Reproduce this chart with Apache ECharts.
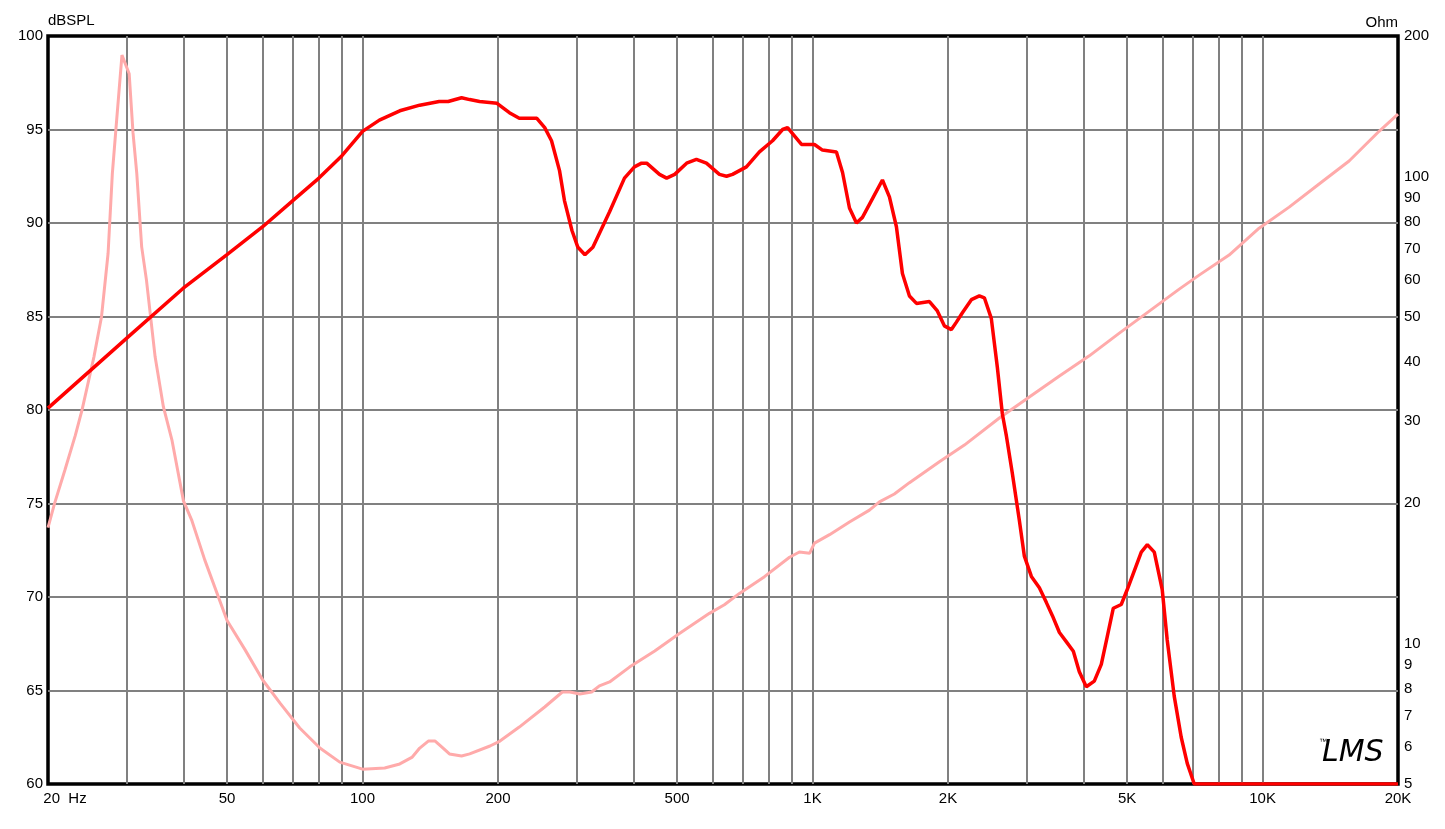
<!DOCTYPE html>
<html>
<head>
<meta charset="utf-8">
<script src="https://cdn.jsdelivr.net/npm/echarts@6.0.0/dist/echarts.min.js"></script>
<style>
html,body{margin:0;padding:0;background:#fff;}
#chart{width:1445px;height:829px;}
</style>
</head>
<body>
<div id="chart"></div>
<script>
// ---- Data ----
// SPL response (Hz, dBSPL)
const splFreq = [20,30.1,39.9,49.9,60,70,80,90,100,109,121,134,148,155,166,173,182,199,212,223,244,254,263,274,281,292,301,312,325,354,382,402,417,428,457,474,494,525,552,581,621,644,664,713,762,815,858,880,945,1010,1052,1130,1166,1208,1252,1291,1359,1430,1482,1536,1584,1642,1702,1819,1894,1963,2035,2088,2153,2254,2348,2409,2496,2574,2641,2697,2780,2881,2955,3064,3192,3309,3412,3537,3666,3798,3916,4058,4228,4382,4519,4660,4853,5005,5188,5377,5546,5747,5985,6140,6364,6596,6803,7051,20000];
const splDb = [80.1,83.9,86.5,88.3,89.8,91.2,92.4,93.6,94.9,95.5,96.0,96.3,96.5,96.5,96.7,96.6,96.5,96.4,95.9,95.6,95.6,95.1,94.4,92.8,91.2,89.6,88.7,88.3,88.7,90.6,92.4,93.0,93.2,93.2,92.6,92.4,92.6,93.2,93.4,93.2,92.6,92.5,92.6,93.0,93.8,94.4,95.0,95.1,94.2,94.2,93.9,93.8,92.7,90.8,90.0,90.3,91.3,92.3,91.4,89.8,87.3,86.1,85.7,85.8,85.3,84.5,84.3,84.7,85.2,85.9,86.1,86.0,84.9,82.3,79.8,78.6,76.6,74.1,72.2,71.1,70.5,69.7,69.0,68.1,67.6,67.1,66.0,65.2,65.5,66.4,67.9,69.4,69.6,70.4,71.4,72.4,72.8,72.4,70.4,67.7,64.7,62.5,61.1,60.0,60.0];

// Impedance (Hz, Ohm)
const zFreq = [20,20.7,21.8,23.0,23.8,25.3,26.3,27.2,27.8,28.3,29.2,30.3,30.9,31.5,32.3,33.1,34.6,36.1,37.7,40,41.7,44.6,50,54.8,60,65.5,72.5,80.4,89,100,112,121,129,134,140,145,151,156,166,173,192,202,223,254,278,289,304,323,336,354,392,446,506,590,637,688,782,889,935,985,1010,1091,1208,1338,1408,1520,1642,1914,2175,2601,3032,3537,4121,4806,5602,6529,7230,8428,9826,11458,13357,15572,18155,20000];
const zOhm = [17.7,20.0,23.5,27.9,31.6,41.1,50.1,68.5,101.6,125.7,182,166,124,101.6,70.7,60,41.1,32.1,27.3,20.2,18.4,15.1,11.2,9.7,8.35,7.46,6.59,5.97,5.57,5.38,5.41,5.52,5.71,5.97,6.18,6.18,5.97,5.80,5.74,5.80,6.03,6.18,6.62,7.31,7.87,7.87,7.79,7.87,8.11,8.27,8.90,9.63,10.5,11.6,12.1,12.8,13.9,15.3,15.7,15.6,16.4,17.1,18.2,19.3,20.1,20.9,22.1,24.5,26.6,30.4,33.7,37.4,41.3,46.2,51.5,57.4,61.5,67.9,77.5,86.0,96.4,108,125,136];

// Axis ticks / labels
const freqGrid = [30,40,50,60,70,80,90,100,200,300,400,500,600,700,800,900,1000,2000,3000,4000,5000,6000,7000,8000,9000,10000];
const freqLabels = [20,50,100,200,500,1000,2000,5000,10000,20000];
const dbGrid = [65,70,75,80,85,90,95];
const dbLabels = [60,65,70,75,80,85,90,95,100];
const ohmLabels = [5,6,7,8,9,10,20,30,40,50,60,70,80,90,100,200];

const FONT = 'Liberation Sans, Arial, sans-serif';
const chart = echarts.init(document.getElementById('chart'), null, {renderer:'canvas'});

function fmtFreq(v){
  if (Math.abs(v-20) < 0.01) return '{s|}{a|20}{b|  Hz}';
  if (v >= 1000) return (v/1000) + 'K';
  return String(v);
}

const option = {
  animation: false,
  backgroundColor: '#ffffff',
  grid: {left:48, right:47, top:36, bottom:45, show:true, borderColor:'#000', borderWidth:3.5, backgroundColor:'transparent'},
  xAxis: {
    type:'log', logBase:10, min:20, max:20000,
    axisLine:{show:false},
    axisTick:{show:false, customValues: freqGrid},
    minorTick:{show:false},
    splitLine:{show:true, lineStyle:{color:'#808080', width:2}},
    axisLabel:{
      customValues: freqLabels,
      formatter: fmtFreq,
      fontSize:15, color:'#000', margin:7, fontFamily:FONT,
      rich:{
        s:{width:34, fontSize:15, fontFamily:FONT},
        a:{fontSize:15, color:'#000', fontFamily:FONT},
        b:{fontSize:15, color:'#000', fontFamily:FONT}
      }
    }
  },
  yAxis: [
    {
      type:'value', min:60, max:100, interval:5, position:'left',
      name:'dBSPL', nameLocation:'end', nameGap:6,
      nameTextStyle:{align:'left', fontSize:15, color:'#000', fontFamily:FONT},
      axisLine:{show:false},
      axisTick:{show:false, customValues: dbGrid},
      splitLine:{show:true, lineStyle:{color:'#808080', width:2}},
      axisLabel:{customValues: dbLabels, fontSize:15, color:'#000', margin:5, fontFamily:FONT}
    },
    {
      type:'log', logBase:10, min:5, max:200, position:'right',
      name:'Ohm', nameLocation:'end', nameGap:6,
      nameTextStyle:{align:'right', fontSize:15, color:'#000', fontFamily:FONT},
      axisLine:{show:false},
      axisTick:{show:false, customValues: ohmLabels},
      minorTick:{show:false},
      splitLine:{show:false},
      axisLabel:{customValues: ohmLabels, fontSize:15, color:'#000', margin:6, fontFamily:FONT}
    }
  ],
  series: [
    {
      name:'Impedance', type:'line', xAxisIndex:0, yAxisIndex:1,
      data: zFreq.map((f,i)=>[f, zOhm[i]]),
      symbol:'none', smooth:false, z:2,
      lineStyle:{color:'#ffaaaa', width:3}
    },
    {
      name:'SPL', type:'line', xAxisIndex:0, yAxisIndex:0,
      data: splFreq.map((f,i)=>[f, splDb[i]]),
      symbol:'none', smooth:false, z:3,
      lineStyle:{color:'#ff0000', width:3.5}
    }
  ],
  graphic: [
    {type:'text', left:1319, top:738, style:{text:'™', fontSize:8, fill:'#000', fontFamily:FONT}},
    {type:'text', left:1322, top:738, style:{text:'LMS', fontSize:30, fontStyle:'italic', fill:'#000', fontFamily:'DejaVu Sans, sans-serif', fontWeight:'normal'}}
  ]
};
chart.setOption(option);
</script>
</body>
</html>
